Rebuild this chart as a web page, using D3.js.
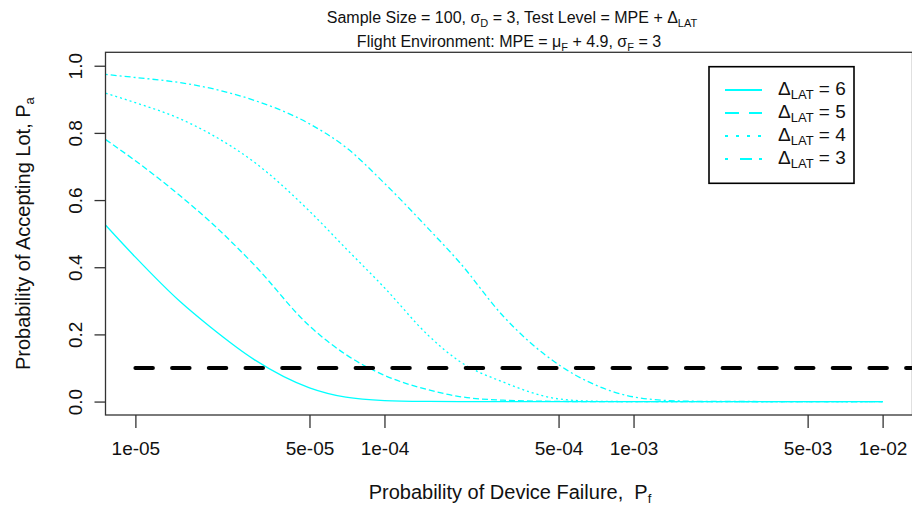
<html>

<head>
  <style>
    body {
      margin: 0;
      background: #fff;
    }

    text {
      font-family: "Liberation Sans", Arial, sans-serif;
      fill: #111;
      white-space: pre;
    }
  </style>
  <script src="https://d3js.org/d3.v7.min.js"></script>
</head>

<body>
  <svg></svg>
  <script type="text/javascript">
    // probability of device failure (x) and acceptance probability per delta
    var pf = [7.6e-6, 1e-5, 1.5e-5, 2e-5, 3e-5, 5e-5, 7e-5, 1e-4, 1.5e-4, 2e-4, 3e-4, 5e-4, 7e-4, 1e-3, 1.5e-3, 2e-3, 5e-3, 1e-2]
    var pa6 = [0.525, 0.43, 0.30, 0.222, 0.125, 0.041, 0.013, 0.003, 0.0005, 0, 0, 0, 0, 0, 0, 0, 0, 0]
    var pa5 = [0.78, 0.717, 0.615, 0.535, 0.407, 0.225, 0.14, 0.078, 0.035, 0.015, 0.004, 0.0005, 0, 0, 0, 0, 0, 0]
    var pa4 = [0.918, 0.89, 0.843, 0.797, 0.713, 0.567, 0.456, 0.339, 0.197, 0.12, 0.058, 0.008, 0.001, 0, 0, 0, 0, 0]
    var pa3 = [0.974, 0.965, 0.95, 0.933, 0.897, 0.827, 0.757, 0.65, 0.515, 0.415, 0.254, 0.11, 0.05, 0.014, 0.002, 0.0005, 0, 0]
    var deltas = [6, 5, 4, 3]
    var xTicks = [1e-5, 5e-5, 1e-4, 5e-4, 1e-3, 5e-3, 1e-2]
    var xTickLabels = ["1e-05", "5e-05", "1e-04", "5e-04", "1e-03", "5e-03", "1e-02"]
    var yTicks = [0, 0.2, 0.4, 0.6, 0.8, 1.0]
    var yTickLabels = ["0.0", "0.2", "0.4", "0.6", "0.8", "1.0"]
    var refLevel = 0.1
    var refStart = 1e-5

    var series = [pa6, pa5, pa4, pa3]
    var curveDash = [null, "6,3", "2,3", "2,3,6,3"]
    var legendDash = [null, "14,10", "3,8", "3,12,12,7"]

    var w = 912
    var h = 508
    var padLeft = 105.5
    var padRight = 912.5
    var padTop = 52.3
    var padBottom = 415

    var svg = d3.select("svg")
      .attr("width", w)
      .attr("height", h)

    var xScale = d3.scaleLog()
      .domain([Math.pow(10, -5.12), Math.pow(10, -1.88)])
      .range([padLeft, padRight])
    var yScale = d3.scaleLinear()
      .domain([-0.04, 1.04])
      .range([padBottom, padTop])

    svg.append("clipPath").attr("id", "plotclip")
      .append("rect")
      .attr("x", padLeft).attr("y", padTop)
      .attr("width", padRight - padLeft).attr("height", padBottom - padTop)

    // rich text helper: parts are [text, isSub]
    var richText = function(sel, parts, subSize, shift) {
      parts.forEach(function(p, i) {
        var t = sel.append("tspan").text(p[0])
        if (p[1]) {
          t.attr("font-size", subSize).attr("dy", shift)
        } else if (i > 0 && parts[i - 1][1]) {
          t.attr("dy", -shift)
        }
      })
    }

    // curves
    var line = d3.line()
      .x(function(d) { return xScale(d[0]) })
      .y(function(d) { return yScale(d[1]) })
      .curve(d3.curveMonotoneX)

    var plot = svg.append("g").attr("clip-path", "url(#plotclip)")

    series.forEach(function(s, i) {
      plot.append("path")
        .datum(pf.map(function(x, j) { return [x, s[j]] }))
        .attr("d", line)
        .attr("fill", "none")
        .attr("stroke", "#00ffff")
        .attr("stroke-width", 1.3)
        .attr("stroke-dasharray", curveDash[i])
    })

    // reference line
    plot.append("line")
      .attr("x1", xScale(refStart))
      .attr("x2", padRight + 5)
      .attr("y1", yScale(refLevel))
      .attr("y2", yScale(refLevel))
      .attr("stroke", "#000")
      .attr("stroke-width", 4)
      .attr("stroke-linecap", "round")
      .attr("stroke-dasharray", "17.5,19.2")

    // box
    svg.append("rect")
      .attr("x", padLeft).attr("y", padTop)
      .attr("width", padRight - padLeft).attr("height", padBottom - padTop)
      .attr("fill", "none")
      .attr("stroke", "#333")
      .attr("stroke-width", 1.3)

    // x axis
    var xAxis = d3.axisBottom(xScale)
      .tickValues(xTicks)
      .tickFormat(function(d, i) { return xTickLabels[i] })
      .tickSize(13)
      .tickPadding(14)

    var gx = svg.append("g")
      .attr("transform", "translate(0," + padBottom + ")")
      .call(xAxis)
    gx.select(".domain").remove()
    gx.selectAll("line").attr("stroke", "#333").attr("stroke-width", 1.3)
    gx.selectAll("text")
      .style("font-family", "Liberation Sans, Arial, sans-serif")
      .style("font-size", "19px")
      .attr("fill", "#111")

    // y axis
    var yAxis = d3.axisLeft(yScale)
      .tickValues(yTicks)
      .tickFormat(function(d, i) { return yTickLabels[i] })
      .tickSize(11)

    var gy = svg.append("g")
      .attr("transform", "translate(" + padLeft + ",0)")
      .call(yAxis)
    gy.select(".domain").remove()
    gy.selectAll("line").attr("stroke", "#333").attr("stroke-width", 1.3)
    gy.selectAll("text")
      .attr("x", 0)
      .attr("y", 0)
      .attr("dy", null)
      .attr("text-anchor", "middle")
      .attr("transform", "translate(-24,0) rotate(-90)")
      .style("font-family", "Liberation Sans, Arial, sans-serif")
      .style("font-size", "19px")
      .attr("fill", "#111")

    // axis titles
    var xt = svg.append("text")
      .attr("x", 510)
      .attr("y", 499)
      .attr("text-anchor", "middle")
      .style("font-size", "20px")
    richText(xt, [["Probability of Device Failure,  P"], ["f", true]], 13, 4)

    var yt = svg.append("text")
      .attr("transform", "translate(30," + ((padTop + padBottom) / 2) + ") rotate(-90)")
      .attr("text-anchor", "middle")
      .style("font-size", "20px")
    richText(yt, [["Probability of Accepting Lot, P"], ["a", true]], 13, 4)

    // title
    var t1 = svg.append("text")
      .attr("x", 512).attr("y", 23)
      .attr("text-anchor", "middle")
      .style("font-size", "16px")
    richText(t1, [["Sample Size = 100, \u03c3"], ["D", true], [" = 3, Test Level = MPE + \u0394"], ["LAT", true]], 11, 4)

    var t2 = svg.append("text")
      .attr("x", 509).attr("y", 47)
      .attr("text-anchor", "middle")
      .style("font-size", "16px")
    richText(t2, [["Flight Environment: MPE = \u03bc"], ["F", true], [" + 4.9, \u03c3"], ["F", true], [" = 3"]], 11, 4)

    // legend
    var lg = svg.append("g")
    lg.append("rect")
      .attr("x", 709).attr("y", 66.7)
      .attr("width", 145).attr("height", 116.6)
      .attr("fill", "#fff")
      .attr("stroke", "#000")
      .attr("stroke-width", 1.6)

    deltas.forEach(function(d, i) {
      var cy = 90 + i * 23
      lg.append("line")
        .attr("x1", 725).attr("x2", 762)
        .attr("y1", cy).attr("y2", cy)
        .attr("stroke", "#00ffff")
        .attr("stroke-width", 2)
        .attr("stroke-dasharray", legendDash[i])
      var lt = lg.append("text")
        .attr("x", 778).attr("y", cy + 5)
        .style("font-size", "19px")
      richText(lt, [["\u0394"], ["LAT", true], [" = " + d]], 13, 4)
    })
  </script>
</body>

</html>
